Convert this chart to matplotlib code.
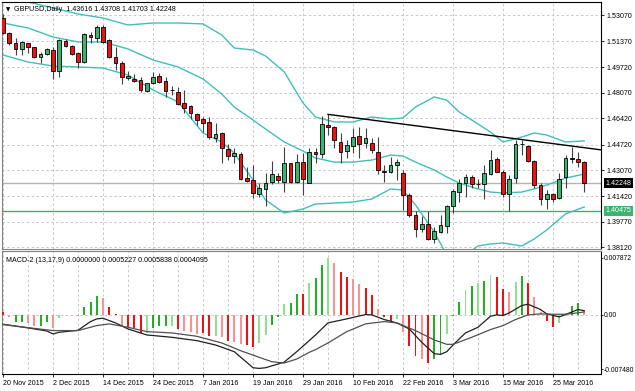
import matplotlib.pyplot as plt
from matplotlib.transforms import blended_transform_factory

plt.rcParams['font.family'] = ['Liberation Sans', 'DejaVu Sans']

# --- data (GBPUSD daily, 20 Nov 2015 - 1 Apr 2016) ---
date_labels = ['20 Nov 2015', '2 Dec 2015', '14 Dec 2015', '24 Dec 2015', '7 Jan 2016',
               '19 Jan 2016', '29 Jan 2016', '10 Feb 2016', '22 Feb 2016', '3 Mar 2016',
               '15 Mar 2016', '25 Mar 2016']
date_pos = [0, 8, 16, 24, 32, 40, 48, 56, 64, 72, 80, 88]

opens = [1.5286, 1.5192, 1.5127, 1.5089, 1.5127, 1.5102, 1.5037, 1.5057, 1.5082, 1.4947,
         1.5140, 1.5108, 1.5063, 1.5005, 1.5179, 1.5159, 1.5227, 1.5147, 1.5035, 1.5000,
         1.4900, 1.4896, 1.4886, 1.4820, 1.4868, 1.4913, 1.4883, 1.4825, 1.4814, 1.4739,
         1.4719, 1.4668, 1.4636, 1.4617, 1.4518, 1.4546, 1.4443, 1.4402, 1.4413, 1.4256,
         1.4246, 1.4153, 1.4188, 1.4231, 1.4271, 1.4235, 1.4353, 1.4235, 1.4359, 1.4228,
         1.4428, 1.4413, 1.4600, 1.4589, 1.4492, 1.4432, 1.4466, 1.4529, 1.4482, 1.4486,
         1.4428, 1.4305, 1.4295, 1.4342, 1.4292, 1.4149, 1.4020, 1.3928, 1.3962, 1.3864,
         1.3913, 1.3951, 1.4080, 1.4170, 1.4224, 1.4267, 1.4220, 1.4220, 1.4284, 1.4381,
         1.4299, 1.4157, 1.4256, 1.4480, 1.4466, 1.4370, 1.4213, 1.4121, 1.4153, 1.4132,
         1.4267, 1.4385, 1.4379, 1.43616]
highs = [1.5314, 1.5198, 1.5159, 1.5137, 1.5130, 1.5104, 1.5069, 1.5095, 1.5102, 1.5153,
         1.5153, 1.5114, 1.5069, 1.5192, 1.5198, 1.5243, 1.5243, 1.5151, 1.5103, 1.5011,
         1.4949, 1.4928, 1.4907, 1.4870, 1.4943, 1.4936, 1.4908, 1.4851, 1.4844, 1.4825,
         1.4728, 1.4675, 1.4649, 1.4649, 1.4610, 1.4553, 1.4477, 1.4451, 1.4426, 1.4331,
         1.4342, 1.4228, 1.4289, 1.4368, 1.4289, 1.4460, 1.4357, 1.4413, 1.4417, 1.4450,
         1.4450, 1.4657, 1.4668, 1.4593, 1.4546, 1.4503, 1.4582, 1.4589, 1.4578, 1.4514,
         1.4520, 1.4342, 1.4395, 1.4379, 1.4310, 1.4160, 1.4046, 1.4014, 1.4048, 1.3945,
         1.4020, 1.4085, 1.4186, 1.4250, 1.4284, 1.4278, 1.4250, 1.4342, 1.4439, 1.4395,
         1.4310, 1.4278, 1.4503, 1.4506, 1.4471, 1.4374, 1.4228, 1.4181, 1.4164, 1.4289,
         1.4406, 1.4460, 1.4428, 1.43708]
lows = [1.5188, 1.5114, 1.5050, 1.5050, 1.5063, 1.5031, 1.4999, 1.5050, 1.4896, 1.4908,
        1.5102, 1.5050, 1.4966, 1.4999, 1.5127, 1.5134, 1.5125, 1.5029, 1.4953, 1.4863,
        1.4889, 1.4878, 1.4809, 1.4812, 1.4863, 1.4872, 1.4782, 1.4793, 1.4728, 1.4675,
        1.4638, 1.4600, 1.4556, 1.4507, 1.4492, 1.4353, 1.4374, 1.4353, 1.4246, 1.4235,
        1.4128, 1.4134, 1.4080, 1.4220, 1.4228, 1.4170, 1.4228, 1.4228, 1.4149, 1.4224,
        1.4353, 1.4385, 1.4535, 1.4450, 1.4353, 1.4385, 1.4417, 1.4385, 1.4450, 1.4417,
        1.4284, 1.4235, 1.4289, 1.4246, 1.4052, 1.4009, 1.3881, 1.3913, 1.3859, 1.3842,
        1.3902, 1.3902, 1.4031, 1.4106, 1.4133, 1.4194, 1.4197, 1.4121, 1.4278, 1.4295,
        1.4138, 1.4049, 1.4226, 1.4406, 1.4363, 1.4192, 1.4085, 1.4057, 1.4106, 1.4123,
        1.4192, 1.4357, 1.4327, 1.41703]
closes = [1.5192, 1.5127, 1.5089, 1.5134, 1.5102, 1.5037, 1.5057, 1.5089, 1.4947, 1.5147,
          1.5108, 1.5057, 1.5005, 1.5185, 1.5166, 1.5230, 1.5134, 1.5035, 1.4997, 1.4908,
          1.4918, 1.4883, 1.4825, 1.4870, 1.4910, 1.4878, 1.4818, 1.4823, 1.4737, 1.4712,
          1.4675, 1.4632, 1.4614, 1.4524, 1.4540, 1.4450, 1.4402, 1.4421, 1.4252, 1.4241,
          1.4160, 1.4192, 1.4224, 1.4284, 1.4246, 1.4357, 1.4235, 1.4359, 1.4249, 1.4428,
          1.4411, 1.4604, 1.4589, 1.4503, 1.4428, 1.4471, 1.4524, 1.4475, 1.4514, 1.4439,
          1.4310, 1.4295, 1.4342, 1.4359, 1.4149, 1.4020, 1.3928, 1.3962, 1.3864, 1.3917,
          1.3954, 1.4078, 1.4177, 1.4224, 1.4267, 1.4220, 1.4218, 1.4289, 1.4377, 1.4299,
          1.4153, 1.4250, 1.4477, 1.4477, 1.4368, 1.4213, 1.4121, 1.4153, 1.4123, 1.4250,
          1.4385, 1.4383, 1.4363, 1.42248]

# Bollinger bands, read at these bar positions
bb_idx = [0, 4, 8, 12, 16, 20, 24, 28, 32, 35, 37, 40, 42, 45, 48, 50, 53, 56, 59, 62,
          64, 66, 69, 71, 73, 76, 78, 80, 83, 85, 87, 90, 93]
bb_upper = [1.5430, 1.5391, 1.5353, 1.5314, 1.5288, 1.5243, 1.5256, 1.5256, 1.5250, 1.5179,
            1.5095, 1.5082, 1.5044, 1.4941, 1.4741, 1.4651, 1.4619, 1.4619, 1.4651, 1.4638,
            1.4645, 1.4715, 1.4780, 1.4760, 1.4683, 1.4606, 1.4554, 1.4490, 1.4522, 1.4548,
            1.4535, 1.4490, 1.4497]
bb_mid = [1.5256, 1.5224, 1.5166, 1.5134, 1.5134, 1.5089, 1.5018, 1.4973, 1.4896, 1.4799,
          1.4715, 1.4632, 1.4574, 1.4490, 1.4432, 1.4387, 1.4361, 1.4361, 1.4374, 1.4406,
          1.4400, 1.4361, 1.4310, 1.4265, 1.4226, 1.4188, 1.4168, 1.4162, 1.4168, 1.4188,
          1.4213, 1.4258, 1.4284]
bb_lower = [1.5050, 1.5005, 1.4979, 1.4973, 1.4966, 1.4921, 1.4825, 1.4748, 1.4548, 1.4490,
            1.4419, 1.4246, 1.4117, 1.4033, 1.4059, 1.4091, 1.4097, 1.4104, 1.4123, 1.4188,
            1.4181, 1.4085, 1.3911, 1.3763, 1.3731, 1.3821, 1.3834, 1.3840, 1.3821, 1.3866,
            1.3924, 1.4027, 1.4072]

trend_idx = [52, 91]
trend_val = [1.4668, 1.4464]

bid_price = 1.42248
level_price = 1.40475
price_ticks = [1.53070, 1.51370, 1.49720, 1.48070, 1.46420, 1.44720, 1.43070, 1.41420,
               1.39770, 1.38120]

# MACD-2 (13,17,9)
hist = [0.00037, -0.00032, -0.00092, -0.00101, -0.00110, -0.00147, -0.00147, -0.00101,
        -0.00179, -0.00046, 0.0, -0.00005, -0.00018, 0.00106, 0.00175, 0.00258, 0.00230,
        0.00115, 0.00014, -0.00156, -0.00170, -0.00184, -0.00248, -0.00248, -0.00184,
        -0.00147, -0.00156, -0.00147, -0.00193, -0.00216, -0.00230, -0.00262, -0.00248,
        -0.00294, -0.00294, -0.00308, -0.00354, -0.00377, -0.00400, -0.00414, -0.00437,
        -0.00386, -0.00276, -0.00133, -0.00032, 0.00143, 0.00166, 0.00290, 0.00285, 0.00437,
        0.00511, 0.00690, 0.00787, 0.00713, 0.00589, 0.00520, 0.00497, 0.00419, 0.00373,
        0.00267, 0.00083, -0.00032, -0.00078, -0.00055, -0.00239, -0.00423, -0.00561,
        -0.00607, -0.00662, -0.00607, -0.00552, -0.00262, -0.00014, 0.00175, 0.00336,
        0.00391, 0.00437, 0.00460, 0.00552, 0.00520, 0.00350, 0.00313, 0.00451, 0.00529,
        0.00442, 0.00244, 0.00037, -0.00078, -0.00170, -0.00110, -0.00009, 0.00120, 0.00166,
        0.00052]
hist_kind = ['r', 'p', 'g', 'g', 'p', 'p', 'g', 'g', 'p', 'lg', 'lg', 'p', 'p', 'g', 'g', 'g',
             'p', 'r', 'r', 'p', 'r', 'r', 'r', 'lg', 'g', 'g', 'g', 'lg', 'r', 'p', 'p', 'p',
             'r', 'r', 'lg', 'p', 'r', 'p', 'p', 'r', 'r', 'lg', 'lg', 'g', 'g', 'lg', 'g', 'g',
             'r', 'lg', 'g', 'g', 'lg', 'p', 'r', 'r', 'p', 'p', 'r', 'r', 'p', 'r', 'r', 'lg',
             'p', 'r', 'r', 'p', 'r', 'g', 'g', 'lg', 'g', 'g', 'lg', 'g', 'lg', 'g', 'lg', 'r',
             'r', 'p', 'lg', 'g', 'r', 'p', 'p', 'r', 'r', 'lg', 'lg', 'g', 'g', 'p']

fast_idx = [0, 4, 7, 8, 9, 12, 14, 15, 16, 18, 20, 23, 27, 31, 34, 37, 39, 40, 41, 42, 44,
            45, 47, 49, 50, 52, 55, 58, 59, 61, 63, 65, 67, 69, 70, 71, 72, 74, 76, 78, 79,
            80, 81, 83, 84, 86, 87, 89, 90, 92, 93]
fast_val = [-0.00129, -0.00179, -0.00221, -0.00262, -0.00239, -0.00212, -0.00092, -0.00055,
            -0.00046, -0.00110, -0.00193, -0.00276, -0.00308, -0.00354, -0.00414, -0.00506,
            -0.00653, -0.00727, -0.00736, -0.00727, -0.00676, -0.00649, -0.00506, -0.00354,
            -0.00276, -0.00110, -0.00055, 0.00005, 0.0, -0.00064, -0.00110, -0.00193,
            -0.00377, -0.00534, -0.00543, -0.00506, -0.00414, -0.00248, -0.00170, -0.00018,
            0.0, -0.00009, 0.00028, 0.00129, 0.00147, 0.00074, 0.00014, -0.00028, 0.00005,
            0.00074, 0.00058]
slow_idx = [0, 4, 8, 12, 15, 17, 20, 23, 27, 31, 35, 38, 41, 43, 45, 47, 49, 50, 52, 55,
            58, 61, 63, 66, 69, 71, 72, 75, 78, 80, 82, 84, 86, 88, 90, 92, 93]
slow_val = [-0.00133, -0.00175, -0.00216, -0.00216, -0.00147, -0.00124, -0.00170, -0.00230,
            -0.00248, -0.00294, -0.00386, -0.00492, -0.00584, -0.00644, -0.00662, -0.00607,
            -0.00515, -0.00478, -0.00386, -0.00230, -0.00124, -0.00092, -0.00110, -0.00216,
            -0.00345, -0.00405, -0.00405, -0.00308, -0.00202, -0.00147, -0.00064, 0.0,
            0.00014, 0.00009, 0.00009, 0.00028, 0.00041]

macd_ticks = [0.007872, 0.0, -0.007480]
macd_tick_labels = ['0.007872', '0.00', '-0.007480']

# --- figure ---
W, H = 635, 391
fig = plt.figure(figsize=(W / 100, H / 100), dpi=100)
ax = fig.add_axes([2 / W, 1 - 248.5 / H, 599 / W, 247 / H])
axm = fig.add_axes([2 / W, 1 - 373.7 / H, 599 / W, 122.7 / H], sharex=ax)

xmin, xmax = -0.16, 95.68
grid_kw = dict(color='#c8c8c8', lw=0.7, ls=(0, (2.5, 2.5)))
kind_colors = {'g': '#22b022', 'lg': '#8fe08f', 'r': '#ee1111', 'p': '#ff9090'}
fs = 5.1

# candles
for i in range(len(opens)):
    o, h, l, c = opens[i], highs[i], lows[i], closes[i]
    ax.vlines(i, l, h, color='#404040', lw=0.8, zorder=3)
    fc = '#3cb371' if c > o else '#ee1111'
    ax.bar(i, max(abs(c - o), 0.00008), bottom=min(o, c), width=0.62, color=fc,
           edgecolor='black', lw=0.6, zorder=4)

ax.plot(bb_idx, bb_upper, color='#40c0b8', lw=1.0, zorder=2)
ax.plot(bb_idx, bb_mid, color='#40c0b8', lw=1.0, zorder=2)
ax.plot(bb_idx, bb_lower, color='#40c0b8', lw=1.0, zorder=2)

slope = (trend_val[1] - trend_val[0]) / (trend_idx[1] - trend_idx[0])
ax.plot([trend_idx[0], xmax], [trend_val[0], trend_val[0] + slope * (xmax - trend_idx[0])],
        color='black', lw=1.0, zorder=5)

ax.axhline(bid_price, color='#b4b4b4', lw=1.0, zorder=1)
ax.axhline(level_price, color='#3cb371', lw=1.0, zorder=1)

ax.set_xlim(xmin, xmax)
ax.set_ylim(1.38047, 1.53943)
ax.yaxis.tick_right()
ax.set_yticks(price_ticks)
ax.set_yticklabels(['%.5f' % p for p in price_ticks])
ax.set_xticks(range(4, 96, 4))
ax.tick_params(axis='x', which='both', bottom=False, labelbottom=False)
ax.tick_params(axis='y', length=2.5, width=0.6, pad=1.5, labelsize=fs)
ax.grid(True, **grid_kw)
ax.set_axisbelow(True)

tr = blended_transform_factory(ax.transAxes, ax.transData)
ax.text(1.008, bid_price, '%.5f' % bid_price, transform=tr, fontsize=fs, color='white',
        va='center', ha='left', bbox=dict(boxstyle='square,pad=0.2', fc='black', ec='none'))
ax.text(1.008, level_price, '%.5f' % level_price, transform=tr, fontsize=fs, color='white',
        va='center', ha='left', bbox=dict(boxstyle='square,pad=0.2', fc='#3cb371', ec='none'))

ax.text(0.006, 0.968, '\u25bc', transform=ax.transAxes, fontsize=4, va='center', ha='left',
        family=['DejaVu Sans'])
ax.text(0.02, 0.968, 'GBPUSD,Daily  %.5f %.5f %.5f %.5f' % (opens[-1], highs[-1], lows[-1], closes[-1]),
        transform=ax.transAxes, fontsize=fs, va='center', ha='left')

# MACD panel
xs = list(range(len(hist)))
axm.bar(xs, hist, width=0.32, color=[kind_colors[k] for k in hist_kind], zorder=3)
axm.plot(fast_idx, fast_val, color='#202020', lw=0.9, zorder=4)
axm.plot(slow_idx, slow_val, color='#505050', lw=0.9, zorder=4)
axm.axhline(0, **grid_kw)
axm.set_ylim(-0.00809, 0.00879)
axm.yaxis.tick_right()
axm.set_yticks(macd_ticks)
axm.set_yticklabels(macd_tick_labels)
axm.set_xticks(date_pos)
axm.set_xticklabels(date_labels, ha='left')
axm.set_xticks(range(4, 96, 4), minor=True)
axm.grid(True, axis='x', which='both', **grid_kw)
axm.set_axisbelow(True)
axm.tick_params(axis='y', length=1.5, width=0.6, pad=0.8, labelsize=4.9)
axm.tick_params(axis='x', which='major', length=2.5, width=0.6, pad=2, labelsize=fs)
axm.tick_params(axis='x', which='minor', length=0)
axm.text(0.006, 0.92, 'MACD-2 (13,17,9) 0.0000000 0.0005227 0.0005838 0.0004095',
         transform=axm.transAxes, fontsize=fs, va='center', ha='left')

for a in (ax, axm):
    for s in a.spines.values():
        s.set_linewidth(0.8)
        s.set_color('black')
    a.spines['left'].set_color('#808080')
ax.spines['bottom'].set_color('#808080')
axm.spines['top'].set_color('#808080')

fig.savefig('out.png', dpi=100, facecolor='white')
